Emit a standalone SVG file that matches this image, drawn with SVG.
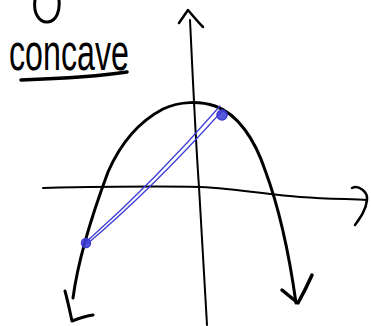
<svg xmlns="http://www.w3.org/2000/svg" width="371" height="326" viewBox="0 0 371 326">
<style>
.ink{fill:none;stroke:#000;stroke-linecap:round;stroke-linejoin:round}
.blue{fill:none;stroke:#3b3bd6;stroke-linecap:round}
</style>
<rect width="371" height="326" fill="#fff"/>
<g id="label">
<path class="ink" stroke-width="3" d="M35,0 C33,14 40,23 48,22 C57,21 60,10 59,0"/>
<text x="9" y="70" font-family="Liberation Sans, sans-serif" font-size="52" textLength="120" lengthAdjust="spacingAndGlyphs" fill="#000">concave</text>
<path class="ink" stroke-width="3.5" d="M21,80 C50,79 95,77 127,72"/>
</g>
<g id="axes">
<path class="ink" stroke-width="2" d="M190,20 C192,60 195,130 199,187 C202,240 205,290 207,325"/>
<path class="ink" stroke-width="2.5" d="M179,23 L188,10 C193,16 198,22 203,27"/>
<path class="ink" stroke-width="2" d="M43,188 C90,187 150,186 200,187 C240,189 270,195 300,197 C330,199 350,199 367,200"/>
<path class="ink" stroke-width="2.5" d="M352,188 C358,185 368,191 367,200 C366,210 360,218 355,225"/>
</g>
<g id="parabola">
<path class="ink" stroke-width="3" d="M73,298 C78,260 92,215 108,172 C122,140 142,120 163,109 C180,101 200,101 215,106 C238,114 255,140 265,170 C280,210 290,260 296,303"/>
<path class="ink" stroke-width="3" d="M65,291 C68,302 70,312 72,321 C80,318 86,316 93,315"/>
<path class="ink" stroke-width="3.5" d="M282,290 C288,295 293,299 298,303 C303,294 308,284 312,275"/>
</g>
<g id="secant">
<path class="blue" stroke-width="1.2" d="M85,243 C130,203 175,158 220,106"/>
<path class="blue" stroke-width="1.2" d="M87,244 C132,206 178,160 222,111"/>
<circle cx="86" cy="243" r="4.5" fill="#3b3bd6" fill-opacity="0.85" stroke="#3b3bd6" stroke-width="1.5"/>
<circle cx="222" cy="115" r="5" fill="#3b3bd6" fill-opacity="0.85" stroke="#3b3bd6" stroke-width="1.5"/>
</g>
</svg>
